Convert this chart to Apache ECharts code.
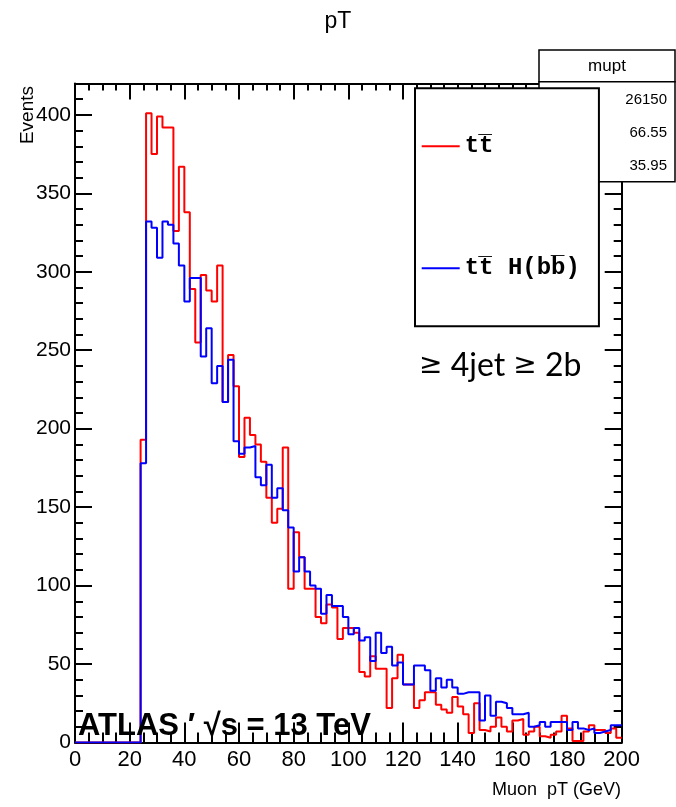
<!DOCTYPE html>
<html><head><meta charset="utf-8">
<script src="https://cdn.jsdelivr.net/npm/echarts@6/dist/echarts.min.js"></script>
<style>html,body{margin:0;padding:0;background:#fff}#c{width:676px;height:807px}</style>
</head><body><div id="c"></div>
<script>
// bin lower edges (GeV), 2 GeV bins, and the upper end of the last bin
const binStarts = [0,2,4,6,8,10,12,14,16,18,20,22,24,26,28,30,32,34,36,38,40,42,44,46,48,50,52,54,56,58,60,62,64,66,68,70,72,74,76,78,80,82,84,86,88,90,92,94,96,98,100,102,104,106,108,110,112,114,116,118,120,122,124,126,128,130,132,134,136,138,140,142,144,146,148,150,152,154,156,158,160,162,164,166,168,170,172,174,176,178,180,182,184,186,188,190,192,194,196,198];
const lastEdge = 200;
// tt̄ (red)
const ttValues = [0,0,0,0,0,0,0,0,0,0,0,0,
  193,401,375,399,392,392,326,367,338,289,
  255,298,288,281,304,217,247,227,182,207,
  196,190,179,156,140,149,188,98,134,118,
  98,98,80,76,88,86,66,73,73,70,
  45,42,55,47,47,22,41,56,37,37,
  22,27,32,32,24,21,19,29,23,18,
  6,25,8,7,10,16,10,7,14,15,
  5,7,10,4,3,5,7,17,9,1,
  1,7,11,8,8,6,9,3];
// tt̄H(bb̄) (blue)
const tthValues = [0,0,0,0,0,0,0,0,0,0,0,0,
  178,332,328,309,332,330,318,304,281,296,
  296,246,264,229,240,217,244,192,184,188,
  189,169,164,177,156,162,148,137,109,118,
  109,100,98,82,94,87,87,80,69,73,
  65,67,52,70,57,61,49,51,37,37,
  49,49,46,33,41,35,40,35,31,32,
  32,32,14,30,17,26,25,22,18,18,
  19,10,11,13,10,13,13,13,8,13,
  9,8,9,6,7,8,11,11];
const xTicks = [0,200,20];   // min, max, step
const yTicks = [0,420,50];
const seriesNames = ['tt\u0305', 'tt\u0305 H(bb\u0305)'];
const statsTitle = 'mupt';
const statsValues = ['26150','66.55','35.95'];

function toSteps(vals){
  const d = binStarts.map((x,i)=>[x, vals[i]]);
  d.push([lastEdge, vals[vals.length-1]]);
  return d;
}
const chart = echarts.init(document.getElementById('c'), null, {renderer:'canvas'});
const black = '#000';
const tickStyle = {color:black, width:2};
function xAx(pos, major, minor, labels){
  return {type:'value', position:pos, min:xTicks[0], max:xTicks[1], interval:xTicks[2],
    axisLine:{show:true, onZero:false, lineStyle:{color:black,width:2}},
    axisTick:{show:true, inside:true, length:major, lineStyle:tickStyle},
    minorTick:{show:true, splitNumber:4, length:minor, lineStyle:tickStyle},
    splitLine:{show:false}, minorSplitLine:{show:false},
    axisLabel:{show:labels, color:black, fontSize:22, fontFamily:'Liberation Sans', margin:6}};
}
function yAx(pos, interval, len, labels, line){
  return {type:'value', position:pos, min:yTicks[0], max:yTicks[1], interval:interval,
    axisLine:{show:line, onZero:false, lineStyle:{color:black,width:2}},
    axisTick:{show:true, inside:true, length:len, lineStyle:tickStyle},
    splitLine:{show:false},
    axisLabel:{show:labels, color:black, fontSize:21, fontFamily:'Liberation Sans', margin:4,
      formatter:v=> v>400 ? '' : String(v)}};
}
chart.setOption({
  animation:false,
  backgroundColor:'#fff',
  grid:{left:75, right:54.3, top:83.5, bottom:64.5, containLabel:false, outerBoundsMode:'none'},
  xAxis:[xAx('bottom',20,10,true), xAx('top',16,7,false)],
  yAxis:[yAx('left',50,17,true,true), yAx('left',10,8,false,false),
         yAx('right',50,17,false,true), yAx('right',10,8,false,false)],
  legend:{orient:'vertical', left:415, top:88.3, z:50,
    padding:[46,19,46,6.7], itemGap:98, itemWidth:38, itemHeight:2,
    backgroundColor:'#fff', borderColor:black, borderWidth:2, borderRadius:0,
    textStyle:{fontFamily:'Liberation Mono', fontWeight:'bold', fontSize:24, color:black},
    data:[{name:seriesNames[0], icon:'rect'},{name:seriesNames[1], icon:'rect'}]},
  series:[
    {name:seriesNames[0], type:'line', step:'end', symbol:'none', data:toSteps(ttValues),
     lineStyle:{color:'#ff0000', width:2}, itemStyle:{color:'#ff0000'}, z:3},
    {name:seriesNames[1], type:'line', step:'end', symbol:'none', data:toSteps(tthValues),
     lineStyle:{color:'#0000ff', width:2}, itemStyle:{color:'#0000ff'}, z:4}
  ],
  graphic:[
    {type:'text', left:'center', top:10, style:{text:'pT', font:'23px "Liberation Sans"', fill:black}},
    {type:'rect', z:20, shape:{x:539, y:50, width:136, height:31.7}, style:{fill:'#fff', stroke:black, lineWidth:1.5}},
    {type:'text', z:21, x:607, y:66, style:{text:statsTitle, font:'17px "Liberation Sans"', fill:black, align:'center', verticalAlign:'middle'}},
    {type:'rect', z:20, shape:{x:539, y:81.7, width:136, height:100}, style:{fill:'#fff', stroke:black, lineWidth:1.5}},
    {type:'text', z:21, x:667, y:100, style:{text:statsValues[0], font:'15px "Liberation Sans"', fill:black, align:'right', verticalAlign:'middle'}},
    {type:'text', z:21, x:667, y:133, style:{text:statsValues[1], font:'15px "Liberation Sans"', fill:black, align:'right', verticalAlign:'middle'}},
    {type:'text', z:21, x:667, y:166, style:{text:statsValues[2], font:'15px "Liberation Sans"', fill:black, align:'right', verticalAlign:'middle'}},
    {type:'text', z:30, x:419, y:366, style:{text:'{g|\u2265} 4jet {g|\u2265} 2b', font:'32px Lato', fill:black, align:'left', verticalAlign:'middle',
      rich:{g:{fontFamily:'DejaVu Sans', fontSize:28, fill:black}}}},
    {type:'text', z:30, x:78, y:742, style:{text:'ATLAS \u2032 \u221As = 13 TeV', font:'bold 31px "Liberation Sans"', fill:black, align:'left', verticalAlign:'bottom'}},
    {type:'text', z:30, x:621, y:790, style:{text:'Muon  pT (GeV)', font:'18px "Liberation Sans"', fill:black, align:'right', verticalAlign:'middle'}},
    {type:'text', z:30, x:28, y:86, rotation:Math.PI/2, style:{text:'Events', font:'19px "Liberation Sans"', fill:black, align:'right', verticalAlign:'middle'}}
  ]
});
</script></body></html>
